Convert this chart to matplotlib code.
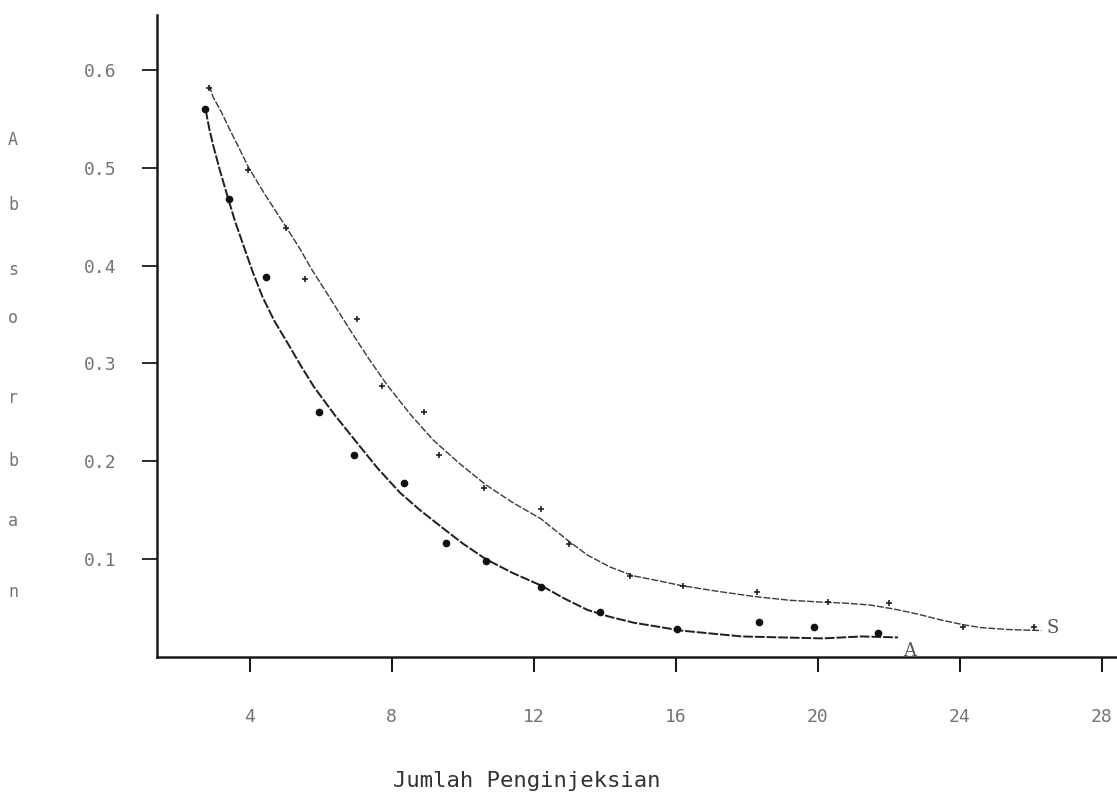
import matplotlib
matplotlib.use("Agg")
import matplotlib.pyplot as plt

# Series A (lower curve, filled dots)
a_x = [2.75, 3.41, 4.46, 5.96, 6.94, 8.34, 9.52, 10.65, 12.21, 13.86, 16.05, 18.35, 19.9, 21.7]
a_y = [0.560, 0.468, 0.388, 0.250, 0.206, 0.178, 0.116, 0.098, 0.072, 0.046, 0.029, 0.036, 0.031, 0.025]

# Series S (upper curve, small plus marks)
s_x = [2.86, 3.95, 5.03, 5.55, 7.02, 7.74, 8.91, 9.33, 10.6, 12.21, 12.99, 14.7, 16.2, 18.3, 20.3, 22.0, 24.1, 26.1]
s_y = [0.581, 0.498, 0.438, 0.386, 0.345, 0.277, 0.250, 0.206, 0.173, 0.151, 0.115, 0.083, 0.073, 0.066, 0.056, 0.055, 0.031, 0.031]

# Hand-drawn fitted curves
a_curve_x = [2.76, 2.86, 2.97, 3.17, 3.38, 3.58, 3.79, 4.07, 4.36, 4.7, 5.08, 5.45, 5.81, 6.4,
             7.02, 7.6, 8.23, 8.8, 9.43, 10.0, 10.65, 11.4, 12.21, 12.85, 13.52, 14.15, 14.82,
             15.5, 16.15, 17.0, 17.86, 19.0, 20.15, 21.24, 22.26]
a_curve_y = [0.559, 0.540, 0.523, 0.496, 0.470, 0.446, 0.424, 0.395, 0.368, 0.343, 0.320, 0.297,
             0.276, 0.247, 0.219, 0.193, 0.168, 0.150, 0.132, 0.116, 0.100, 0.086, 0.073, 0.060,
             0.048, 0.041, 0.035, 0.031, 0.027, 0.024, 0.021, 0.020, 0.019, 0.021, 0.020]

s_curve_x = [2.86, 2.97, 3.2, 3.41, 3.7, 3.97, 4.44, 5.03, 5.4, 5.73, 6.1, 6.43, 6.9, 7.35, 7.87,
             8.5, 9.16, 9.9, 10.65, 11.4, 12.21, 13.0, 13.52, 14.15, 14.8, 15.5, 16.15, 17.2,
             18.17, 19.2, 20.15, 20.8, 21.5, 22.15, 22.8, 23.45, 24.1, 24.6, 25.4, 26.3]
s_curve_y = [0.584, 0.572, 0.557, 0.541, 0.520, 0.500, 0.472, 0.439, 0.418, 0.397, 0.376, 0.357,
             0.330, 0.305, 0.278, 0.249, 0.222, 0.198, 0.176, 0.158, 0.141, 0.118, 0.104, 0.092,
             0.083, 0.078, 0.073, 0.067, 0.062, 0.058, 0.056, 0.055, 0.053, 0.049, 0.044, 0.038,
             0.033, 0.030, 0.028, 0.027]

x_ticks = [4, 8, 12, 16, 20, 24, 28]
y_ticks = [0.1, 0.2, 0.3, 0.4, 0.5, 0.6]
y_letters = ["A", "b", "s", "o", "r", "b", "a", "n"]

mono = "DejaVu Sans Mono"
grey = "#747474"

fig = plt.figure(figsize=(11.17, 8.0), dpi=100)
ax = fig.add_axes([0.1406, 0.17875, 0.8594, 0.8025])

ax.plot(s_curve_x, s_curve_y, color="#3a3a3a", lw=1.0, ls=(0, (5, 1.3)))
ax.plot(a_curve_x, a_curve_y, color="#1e1e1e", lw=1.4, ls=(0, (5, 1.0)))
ax.plot(s_x, s_y, ls="none", marker="+", ms=5, mew=1.2, color="#222222")
ax.plot(a_x, a_y, ls="none", marker="o", ms=4.5, color="#111111")

ax.annotate("A", (a_curve_x[-1], a_curve_y[-1]), xytext=(4, -10), textcoords="offset points",
            fontsize=13, color="#555555", family="DejaVu Serif", va="center")
ax.annotate("S", (s_curve_x[-1], s_curve_y[-1]), xytext=(4, 2), textcoords="offset points",
            fontsize=13, color="#555555", family="DejaVu Serif", va="center")

ax.set_xlim(1.39, 28.43)
ax.set_ylim(0, 0.656)

for side in ("top", "right"):
    ax.spines[side].set_visible(False)
for side in ("left", "bottom"):
    ax.spines[side].set_linewidth(1.8)
    ax.spines[side].set_color("#1a1a1a")

ax.set_xticks(x_ticks)
ax.set_xticklabels([str(t) for t in x_ticks])
ax.set_yticks(y_ticks)
ax.set_yticklabels([f"{t:.1f}" for t in y_ticks])
ax.tick_params(axis="x", direction="out", length=11, width=1.5, pad=26,
               labelsize=13, labelcolor=grey, color="#1a1a1a")
ax.tick_params(axis="y", direction="out", length=11, width=1.3, pad=18,
               labelsize=13, labelcolor=grey, color="#1a1a1a")
for lab in ax.get_xticklabels() + ax.get_yticklabels():
    lab.set_family(mono)

fig.text(527 / 1117, 1 - 781 / 800, "Jumlah Penginjeksian", ha="center", va="center",
         fontsize=16, family=mono, color="#333333")

letter_y = [140, 205, 270, 318, 398, 461, 521, 592]
for ch, py in zip(y_letters, letter_y):
    fig.text(13 / 1117, 1 - py / 800, ch, ha="center", va="center",
             fontsize=12, family=mono, color=grey)

fig.savefig("out.png", dpi=100, facecolor="white")
